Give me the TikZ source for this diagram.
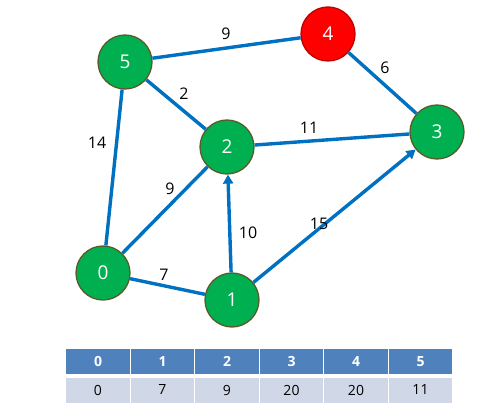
\documentclass[tikz,border=0pt]{standalone}
\usepackage{fontspec}
\setmainfont{Open Sans}
\usetikzlibrary{arrows.meta}
\definecolor{edgeblue}{HTML}{0070C0}
\definecolor{nodegreen}{HTML}{00B050}
\definecolor{nodeborder}{HTML}{5A5A28}
\definecolor{nodered}{HTML}{FF0000}
\definecolor{redborder}{HTML}{C00000}
\definecolor{headblue}{HTML}{4F81BD}
\definecolor{bodyblue}{HTML}{D0D8E8}
\tikzset{
  vert/.style={circle, draw=nodeborder, line width=1.3pt, fill=nodegreen, minimum size=54pt, inner sep=0pt, text=white, font=\fontsize{19}{21}\selectfont},
  redvert/.style={vert, draw=redborder, fill=nodered},
  edge/.style={draw=edgeblue, line width=3.4pt},
  arr/.style={edge, -{Triangle[length=9pt,width=10pt]}},
  wlab/.style={font=\fontsize{16}{18}\selectfont, text=black},
  headcell/.style={rectangle, fill=headblue, draw=white, line width=1pt, minimum width=64.5pt, minimum height=26pt, inner sep=0pt, text=white, font=\bfseries\fontsize{14}{16}\selectfont},
  bodycell/.style={headcell, fill=bodyblue, text=black, font=\fontsize{14}{16}\selectfont}
}
\begin{document}
\begin{tikzpicture}[x=1pt,y=-1pt]
\useasboundingbox (0,0) rectangle (493,414);
\node[vert] (n5) at (125,62) {5};
\node[redvert] (n4) at (328,34) {4};
\node[vert] (n3) at (437,132) {3};
\node[vert] (n2) at (227,147) {2};
\node[vert] (n0) at (103,273) {0};
\node[vert] (n1) at (232,300) {1};
\path[edge] (n5) -- (n4);
\path[edge] (n4) -- (n3);
\path[edge] (n5) -- (n2);
\path[edge] (n2) -- (n3);
\path[edge] (n5) -- (n0);
\path[edge] (n0) -- (n2);
\path[edge] (n0) -- (n1);
\path[arr] (n1) -- (n2);
\path[arr] (n1) -- (n3);
\node[wlab] (w54) at (226,34) {9};
\node[wlab] (w43) at (385,68) {6};
\node[wlab] (w52) at (184,94) {2};
\node[wlab] (w23) at (309,128) {11};
\node[wlab] (w50) at (97,143) {14};
\node[wlab] (w02) at (170,189) {9};
\node[wlab] (w12) at (248,233) {10};
\node[wlab] (w13) at (319,224) {15};
\node[wlab] (w01) at (164,275) {7};
\foreach \i/\v in {0/0,1/7,2/9,3/20,4/20,5/11}{
  \node[headcell] (h\i) at ({98+64.5*\i},361.3) {\i};
  \node[bodycell] (b\i) at ({98+64.5*\i},390) {\v};
}
\end{tikzpicture}
\end{document}
